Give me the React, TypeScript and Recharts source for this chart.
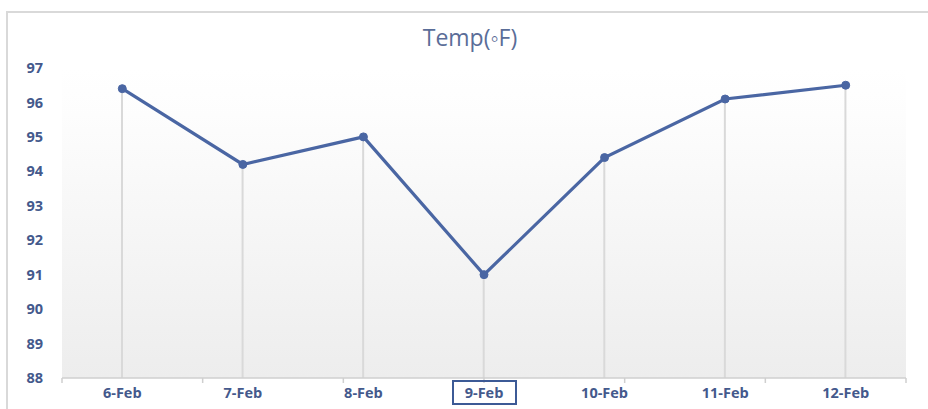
import React from 'react';
import { ComposedChart, Line, Bar, XAxis, YAxis, CartesianGrid } from 'recharts';

const categories = ['6-Feb', '7-Feb', '8-Feb', '9-Feb', '10-Feb', '11-Feb', '12-Feb'];
const temps = [96.4, 94.2, 95.0, 91.0, 94.4, 96.1, 96.5];
const yTicks = [88, 89, 90, 91, 92, 93, 94, 95, 96, 97];
const boundaryTicks = [0, 1, 2, 3, 4, 5, 6, 7];
const highlighted = '9-Feb';
const title = 'Temp(\u25E6F)';

const data = categories.map((c, i) => ({ day: c, temp: temps[i] }));

const LINE = '#4a66a3';
const LABEL = '#44598c';
const FONT = "'Open Sans', 'Noto Sans', sans-serif";

const XTick = (props: any) => {
  const { x, y, payload } = props;
  const isHi = payload.value === highlighted;
  return (
    <g transform={`translate(${x},${y})`}>
      {isHi && (
        <rect x={-31} y={-7} width={63} height={23} fill="none" stroke="#3c5a96" strokeWidth={2} />
      )}
      <text x={0} y={0} dy={10} textAnchor="middle" fill={LABEL} fontSize={14.5} fontWeight={700} fontFamily={FONT}>
        {payload.value}
      </text>
    </g>
  );
};

export default function App() {
  return (
    <div style={{ position: 'absolute', left: 0, top: 0, width: 928, height: 409, background: '#fff', overflow: 'hidden' }}>
      <div style={{ position: 'absolute', left: 6, top: 11, width: 940, height: 420, borderTop: '2px solid #d9d9d9', borderLeft: '2px solid #d9d9d9', boxSizing: 'border-box' }} />
      <div style={{ position: 'absolute', left: 0, top: 21, width: 940, textAlign: 'center', fontFamily: FONT, fontSize: 23, color: '#5a6d98' }}>
        {title}
      </div>
      <div style={{ position: 'absolute', left: 0, top: 0 }}>
        <ComposedChart width={928} height={409} data={data} margin={{ top: 68, right: 22, bottom: 0, left: 22 }}>
          <defs>
            <linearGradient id="bgGrad" x1="0" y1="0" x2="0" y2="1">
              <stop offset="0" stopColor="#ffffff" />
              <stop offset="0.15" stopColor="#fdfdfd" />
              <stop offset="1" stopColor="#ededed" />
            </linearGradient>
          </defs>
          <CartesianGrid horizontal={false} vertical={false} fill="url(#bgGrad)" stroke="none" />
          <XAxis
            xAxisId="bounds"
            type="number"
            domain={[0, 7]}
            ticks={boundaryTicks}
            height={1}
            tick={() => <g />}
            tickSize={5}
            tickLine={{ stroke: '#cfcfcf', strokeWidth: 1.5 }}
            axisLine={{ stroke: '#cfcfcf', strokeWidth: 1.5 }}
            allowDataOverflow
          />
          <XAxis
            xAxisId="cat"
            dataKey="day"
            type="category"
            height={30}
            tickLine={false}
            axisLine={false}
            tickSize={0}
            tickMargin={9}
            tick={<XTick />}
            interval={0}
          />
          <YAxis
            domain={[88, 97]}
            ticks={yTicks}
            width={40}
            tickLine={false}
            axisLine={false}
            tickSize={0}
            tickMargin={19}
            tick={{ fill: LABEL, fontSize: 14.5, fontWeight: 700, fontFamily: FONT }}
            interval={0}
          />
          <Bar xAxisId="cat" dataKey="temp" barSize={2} fill="#d9d9d9" isAnimationActive={false} />
          <Line
            xAxisId="cat"
            dataKey="temp"
            stroke={LINE}
            strokeWidth={3.2}
            dot={{ r: 4, fill: LINE, stroke: LINE, strokeWidth: 1 }}
            activeDot={false}
            isAnimationActive={false}
          />
        </ComposedChart>
      </div>
    </div>
  );
}
